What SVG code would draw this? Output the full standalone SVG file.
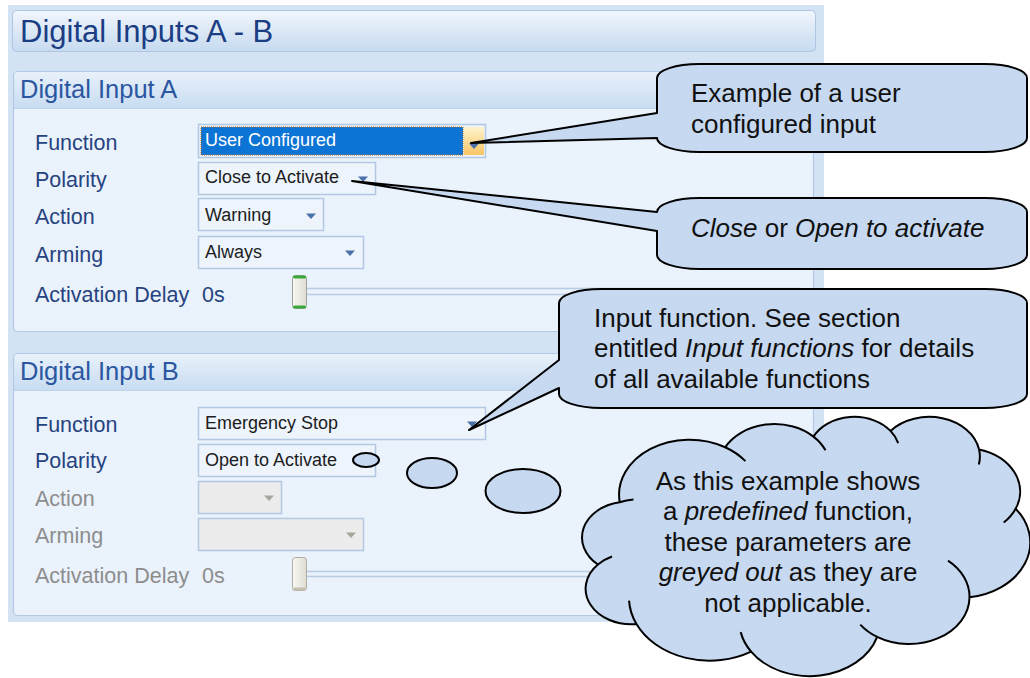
<svg xmlns="http://www.w3.org/2000/svg" width="1030" height="678" viewBox="0 0 1030 678">
<defs>
  <linearGradient id="gTitle" x1="0" y1="0" x2="0" y2="1">
    <stop offset="0" stop-color="#f1f6fc"/>
    <stop offset="1" stop-color="#c6daf0"/>
  </linearGradient>
  <linearGradient id="gHead" x1="0" y1="0" x2="0" y2="1">
    <stop offset="0" stop-color="#e8f1fb"/>
    <stop offset="1" stop-color="#c8dcf1"/>
  </linearGradient>
  <linearGradient id="gBtn" x1="0" y1="0" x2="0" y2="1">
    <stop offset="0" stop-color="#fff4cf"/>
    <stop offset="1" stop-color="#f8c464"/>
  </linearGradient>
  <linearGradient id="gThumb" x1="0" y1="0" x2="1" y2="0">
    <stop offset="0" stop-color="#f8f8f4"/>
    <stop offset="1" stop-color="#dedcd2"/>
  </linearGradient>
  <path id="arrow" d="M-5 -2.5 H5 L0 3 Z"/>
</defs>
<style>
  text { font-family: "Liberation Sans", Arial, sans-serif; }
  .title { font-size: 31px; fill: #1b3d84; }
  .head { font-size: 25.5px; fill: #2b56a0; }
  .lbl { font-size: 21.5px; fill: #26437f; }
  .dis { fill: #8d8d8d; }
  .val { font-size: 18px; fill: #1c1c1c; }
  .box { fill: #edf4fc; stroke: #b3c8e3; stroke-width: 1.5; }
  .boxd { fill: #ececec; stroke: #b3c8e3; stroke-width: 1.5; }
  .arr { fill: #4b6fa8; }
  .arrd { fill: #a8a69c; }
  .track { stroke: #b8cce4; stroke-width: 1.5; }
  .panel { fill: #eaf2fc; stroke: none; }
  .pline { fill: none; stroke: #b3cae6; stroke-width: 1.2; }
  .co { fill: #c6d9f0; stroke: #000; stroke-width: 2; stroke-linejoin: round; }
  .deco { fill: none; stroke: #000; stroke-width: 2; }
  .ct { font-size: 26px; fill: #111; }
  .it { font-style: italic; }
</style>

<g id="background">
  <rect x="8" y="5" width="816" height="617" fill="#d4e3f3"/>
</g>

<g id="title-bar">
  <rect x="12.5" y="10.5" width="803" height="41" rx="4" fill="url(#gTitle)" stroke="#aec6e2"/>
  <text class="title" x="20" y="42">Digital Inputs A - B</text>
</g>

<g id="panel-a">
  <rect class="panel" x="13.5" y="71.5" width="800" height="260" rx="4"/>
  <rect x="14" y="72" width="799" height="36" fill="url(#gHead)"/>
  <line x1="14" y1="108.5" x2="813" y2="108.5" stroke="#bfd3ea"/>
  <rect class="pline" x="13.5" y="71.5" width="800" height="260" rx="4"/>
  <text class="head" x="20" y="98">Digital Input A</text>

  <g id="a-function">
    <text class="lbl" x="35" y="150">Function</text>
    <rect class="box" x="198.5" y="124.5" width="287" height="33"/>
    <rect x="201" y="127" width="262" height="28" fill="#0b74d5" stroke="#b86a1a" stroke-dasharray="1 1"/>
    <rect x="464" y="127" width="20" height="28" fill="url(#gBtn)"/>
    <use href="#arrow" class="arr" x="474" y="146"/>
    <text class="val" x="205" y="146" style="fill:#fff">User Configured</text>
  </g>
  <g id="a-polarity">
    <text class="lbl" x="35" y="187">Polarity</text>
    <rect class="box" x="198.5" y="162.5" width="177" height="32"/>
    <text class="val" x="205" y="183">Close to Activate</text>
    <use href="#arrow" class="arr" x="363" y="179"/>
  </g>
  <g id="a-action">
    <text class="lbl" x="35" y="224">Action</text>
    <rect class="box" x="198.5" y="198.5" width="125" height="32"/>
    <text class="val" x="205" y="221">Warning</text>
    <use href="#arrow" class="arr" x="311" y="216"/>
  </g>
  <g id="a-arming">
    <text class="lbl" x="35" y="262">Arming</text>
    <rect class="box" x="198.5" y="236.5" width="165" height="32"/>
    <text class="val" x="205" y="258">Always</text>
    <use href="#arrow" class="arr" x="350" y="253"/>
  </g>
  <g id="a-delay">
    <text class="lbl" x="35" y="302">Activation Delay</text>
    <text class="lbl" x="202" y="302">0s</text>
    <line class="track" x1="306" y1="288.5" x2="800" y2="288.5"/>
    <line class="track" x1="306" y1="294.5" x2="800" y2="294.5"/>
    <rect x="292.5" y="275.5" width="14" height="33" rx="3" fill="url(#gThumb)" stroke="#9aa39a"/>
    <rect x="293" y="275.5" width="13" height="3" rx="1.5" fill="#3aa93a"/>
    <rect x="293" y="305.5" width="13" height="3" rx="1.5" fill="#3aa93a"/>
  </g>
</g>

<g id="panel-b">
  <rect class="panel" x="13.5" y="353.5" width="800" height="262" rx="4"/>
  <rect x="14" y="354" width="799" height="36" fill="url(#gHead)"/>
  <line x1="14" y1="390.5" x2="813" y2="390.5" stroke="#bfd3ea"/>
  <rect class="pline" x="13.5" y="353.5" width="800" height="262" rx="4"/>
  <text class="head" x="20" y="380">Digital Input B</text>

  <g id="b-function">
    <text class="lbl" x="35" y="432">Function</text>
    <rect class="box" x="198.5" y="407.5" width="287" height="32"/>
    <text class="val" x="205" y="429">Emergency Stop</text>
    <use href="#arrow" class="arr" x="472" y="424"/>
  </g>
  <g id="b-polarity">
    <text class="lbl" x="35" y="468">Polarity</text>
    <rect class="box" x="198.5" y="444.5" width="177" height="32"/>
    <text class="val" x="205" y="466">Open to Activate</text>
    <use href="#arrow" class="arr" x="363" y="461"/>
  </g>
  <g id="b-action">
    <text class="lbl dis" x="35" y="506">Action</text>
    <rect class="boxd" x="198.5" y="481.5" width="83" height="32"/>
    <use href="#arrow" class="arrd" x="269" y="498"/>
  </g>
  <g id="b-arming">
    <text class="lbl dis" x="35" y="543">Arming</text>
    <rect class="boxd" x="198.5" y="518.5" width="165" height="32"/>
    <use href="#arrow" class="arrd" x="351" y="535"/>
  </g>
  <g id="b-delay">
    <text class="lbl dis" x="35" y="583">Activation Delay</text>
    <text class="lbl dis" x="202" y="583">0s</text>
    <line class="track" x1="307" y1="571.5" x2="800" y2="571.5"/>
    <line class="track" x1="307" y1="576.5" x2="800" y2="576.5"/>
    <rect x="292.5" y="557.5" width="14" height="33" rx="3" fill="url(#gThumb)" stroke="#b0ad9f"/>
    <rect x="293" y="587.5" width="13" height="3" rx="1.5" fill="#c4c0b0"/>
  </g>
</g>

<g id="connectors">
  <ellipse class="co" cx="366" cy="460" rx="13" ry="7"/>
  <ellipse class="co" cx="432" cy="473" rx="25" ry="15"/>
  <ellipse class="co" cx="523" cy="491" rx="37.5" ry="22"/>
</g>

<g id="callout-user-configured">
  <path class="co" d="M699 64 H985 A42 14 0 0 1 1027 78 V138 A42 14 0 0 1 985 152 H699 A42 14 0 0 1 657 138 L471 143 L657 113 V78 A42 14 0 0 1 699 64 Z"/>
  <text class="ct" x="691" y="102">Example of a user</text>
  <text class="ct" x="691" y="133">configured input</text>
</g>

<g id="callout-polarity">
  <path class="co" d="M699 198 H985 A42 14 0 0 1 1027 212 V255 A42 14 0 0 1 985 269 H699 A42 14 0 0 1 657 255 V231 L352 181 L657 212 A42 14 0 0 1 699 198 Z"/>
  <text class="ct" x="691" y="237"><tspan class="it">Close</tspan> or <tspan class="it">Open to activate</tspan></text>
</g>

<g id="callout-input-function">
  <path class="co" d="M601 289 H985 A42 14 0 0 1 1027 303 V394 A42 14 0 0 1 985 408 H601 A42 14 0 0 1 559 394 V388 L469 430 L559 360 V303 A42 14 0 0 1 601 289 Z"/>
  <text class="ct" x="594" y="327">Input function. See section</text>
  <text class="ct" x="594" y="357">entitled <tspan class="it">Input functions</tspan> for details</text>
  <text class="ct" x="594" y="388">of all available functions</text>
</g>

<g id="cloud-greyed-out">
  <g transform="translate(579 416) scale(0.01044 0.006)">
    <path class="co" vector-effect="non-scaling-stroke" d="M3900 14370 A6753 9190 0 0 1 14006 5203 A5333 7267 0 0 1 22458 3434 A4365 5945 0 0 1 29836 2483 A4857 6595 0 0 1 38322 5577 A5333 7273 0 0 1 41823 15461 A6775 9220 0 0 1 37407 30201 A5785 7867 0 0 1 28559 36811 A6752 9215 0 0 1 16483 39264 A7720 10543 0 0 1 5503 34671 A4360 5918 0 0 1 1812 24749 A4345 5945 0 0 1 3900 14370 Z"/>
    <path class="deco" vector-effect="non-scaling-stroke" d="M14006 5203 A6753 9190 0 0 1 15941 7521 M22458 3434 A5333 7267 0 0 1 23609 5721 M29836 2483 A4365 5945 0 0 1 30575 4517 M38322 5577 A4857 6595 0 0 1 38297 8093 M41823 15461 A5333 7273 0 0 1 40679 17756 M35341 24111 A5785 7867 0 0 1 37407 30201 M28559 36811 A5785 7867 0 0 1 26943 34763 M16483 39264 A6752 9215 0 0 1 15486 36021 M5503 34671 A7720 10543 0 0 1 4795 30766 M1812 24749 A4360 5918 0 0 1 3160 23425 M3900 14370 A4345 5945 0 0 1 5215 13908"/>
  </g>
  <text class="ct" x="788" y="490" text-anchor="middle">As this example shows</text>
  <text class="ct" x="788" y="520" text-anchor="middle">a <tspan class="it">predefined</tspan> function,</text>
  <text class="ct" x="788" y="551" text-anchor="middle">these parameters are</text>
  <text class="ct" x="788" y="581" text-anchor="middle"><tspan class="it">greyed out</tspan> as they are</text>
  <text class="ct" x="788" y="612" text-anchor="middle">not applicable.</text>
</g>
</svg>
